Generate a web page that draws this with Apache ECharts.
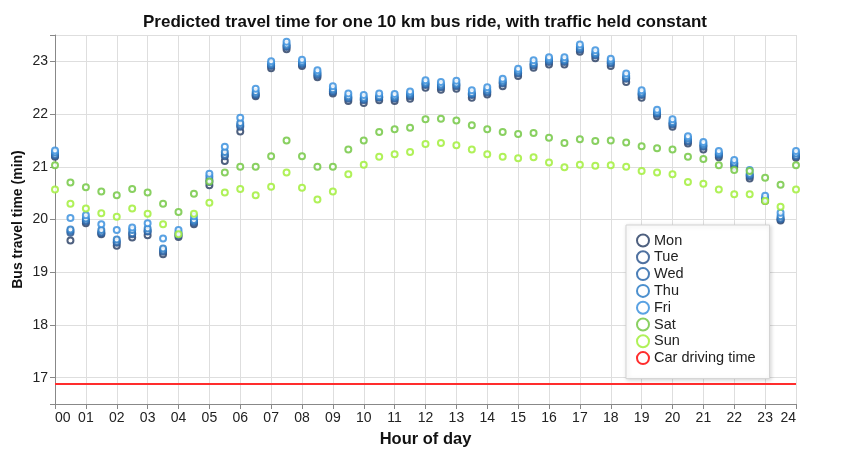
<!DOCTYPE html>
<html>
<head>
<meta charset="utf-8">
<script src="https://cdn.jsdelivr.net/npm/echarts@6/dist/echarts.min.js"></script>
<style>html,body{margin:0;padding:0;background:#fff;}#c{width:850px;height:466px;}</style>
</head>
<body>
<div id="c"></div>
<script>
var hours = [0,0.5,1,1.5,2,2.5,3,3.5,4,4.5,5,5.5,6,6.5,7,7.5,8,8.5,9,9.5,10,10.5,11,11.5,12,12.5,13,13.5,14,14.5,15,15.5,16,16.5,17,17.5,18,18.5,19,19.5,20,20.5,21,21.5,22,22.5,23,23.5,24];
var mon = [21.19,19.60,19.93,19.72,19.50,19.66,19.70,19.34,19.67,19.91,20.65,21.11,21.67,22.34,22.87,23.23,22.91,22.70,22.39,22.25,22.21,22.26,22.25,22.29,22.50,22.46,22.48,22.31,22.37,22.53,22.72,22.88,22.94,22.94,23.18,23.06,22.91,22.61,22.31,21.96,21.76,21.44,21.33,21.18,21.00,20.78,20.35,19.98,21.17];
var tue = [21.21,19.75,19.96,19.74,19.56,19.72,19.77,19.39,19.70,19.94,20.71,21.20,21.76,22.36,22.91,23.27,22.94,22.73,22.42,22.29,22.26,22.31,22.29,22.34,22.55,22.51,22.53,22.36,22.41,22.58,22.77,22.92,22.99,22.99,23.22,23.11,22.96,22.67,22.36,22.00,21.80,21.48,21.38,21.22,21.04,20.82,20.37,20.00,21.20];
var wed = [21.23,19.78,19.98,19.76,19.58,19.74,19.78,19.41,19.72,19.96,20.75,21.23,21.79,22.38,22.93,23.29,22.96,22.76,22.44,22.31,22.28,22.32,22.31,22.36,22.57,22.53,22.55,22.38,22.43,22.60,22.79,22.94,23.01,23.01,23.24,23.13,22.98,22.69,22.38,22.02,21.82,21.50,21.40,21.24,21.06,20.84,20.38,20.02,21.21];
var thu = [21.27,19.81,20.02,19.80,19.62,19.80,19.83,19.45,19.75,19.99,20.81,21.28,21.83,22.42,22.96,23.32,22.99,22.79,22.47,22.34,22.31,22.34,22.34,22.39,22.60,22.56,22.58,22.40,22.46,22.63,22.82,22.97,23.04,23.03,23.27,23.16,23.01,22.72,22.41,22.04,21.85,21.54,21.43,21.26,21.08,20.87,20.40,20.06,21.25];
var fri = [21.31,20.03,20.08,19.91,19.80,19.85,19.93,19.64,19.80,20.06,20.87,21.38,21.93,22.48,23.00,23.37,23.03,22.83,22.53,22.39,22.36,22.39,22.38,22.43,22.64,22.61,22.63,22.45,22.51,22.67,22.86,23.02,23.08,23.08,23.32,23.21,23.05,22.77,22.45,22.08,21.90,21.58,21.47,21.30,21.13,20.94,20.45,20.13,21.30];
var sat = [21.03,20.70,20.61,20.53,20.46,20.58,20.51,20.30,20.14,20.49,20.72,20.89,21.00,21.00,21.20,21.50,21.20,21.00,21.00,21.33,21.50,21.66,21.71,21.74,21.90,21.91,21.88,21.79,21.71,21.66,21.62,21.64,21.55,21.45,21.52,21.49,21.50,21.46,21.39,21.35,21.33,21.19,21.15,21.03,20.94,20.92,20.79,20.66,21.03];
var sun = [20.57,20.30,20.21,20.12,20.05,20.21,20.11,19.91,19.72,20.11,20.32,20.51,20.58,20.46,20.62,20.89,20.60,20.38,20.53,20.86,21.04,21.19,21.24,21.28,21.43,21.45,21.41,21.33,21.24,21.19,21.16,21.18,21.08,20.99,21.04,21.02,21.03,21.00,20.92,20.89,20.86,20.71,20.68,20.57,20.48,20.48,20.35,20.24,20.57];
var carHours = [0,24];
var carTime = [16.88,16.88];
var dayNames = ['Mon','Tue','Wed','Thu','Fri','Sat','Sun'];
var dayValues = [mon,tue,wed,thu,fri,sat,sun];
var dayColors = ['#2f4468','#30588f','#2c68ac','#2d7cc6','#3d92de','#74c845','#a2ee3c'];
var carName = 'Car driving time';

function pair(xs, ys){ return xs.map(function(x,i){ return [x, ys[i]]; }); }

var series = dayNames.map(function(n,i){
  return {
    name: n, type: 'scatter', symbol: 'emptyCircle', symbolSize: 6,
    itemStyle: { color: dayColors[i], borderColor: dayColors[i], borderWidth: 2, opacity: 0.85 },
    data: pair(hours, dayValues[i])
  };
});
series.push({
  name: carName, type: 'line', showSymbol: false, symbol: 'emptyCircle',
  lineStyle: { color: '#ff2d2d', width: 2 }, itemStyle: { color: '#ff2d2d' },
  data: pair(carHours, carTime)
});

var chart = echarts.init(document.getElementById('c'), null, {renderer:'canvas'});
chart.setOption({
  animation: false,
  backgroundColor: '#fff',
  textStyle: { fontFamily: 'Liberation Sans, Arial, sans-serif' },
  title: {
    text: 'Predicted travel time for one 10 km bus ride, with traffic held constant',
    left: 'center', top: 9,
    textStyle: { fontSize: 17, fontWeight: 'bold', color: '#111', fontFamily: 'Liberation Sans, Arial, sans-serif' }
  },
  legend: {
    orient: 'vertical', left: 626, top: 225,
    padding: [8, 14, 13, 10], itemGap: 1.8, itemWidth: 12, itemHeight: 12,
    backgroundColor: '#fff', borderColor: '#d4d4d4', borderWidth: 1,
    shadowBlur: 4, shadowColor: 'rgba(0,0,0,0.15)', shadowOffsetX: 1, shadowOffsetY: 1,
    textStyle: { fontSize: 14.5, color: '#222' },
    data: dayNames.map(function(n){ return { name: n, icon: 'emptyCircle' }; }).concat([{ name: carName, icon: 'emptyCircle' }])
  },
  grid: { left: 55, right: 54, top: 35, bottom: 62 },
  xAxis: {
    type: 'value', min: 0, max: 24, interval: 1,
    name: 'Hour of day', nameLocation: 'middle', nameGap: 27,
    nameTextStyle: { fontSize: 16.5, fontWeight: 'bold', color: '#111' },
    axisLine: { show: true, lineStyle: { color: '#888' } },
    axisTick: { show: true, length: 5, lineStyle: { color: '#888' } },
    axisLabel: { fontSize: 14, color: '#222', margin: 7, alignMinLabel: 'left', alignMaxLabel: 'right',
      formatter: function(v){ return (v < 10 ? '0' : '') + v; } },
    splitLine: { show: true, lineStyle: { color: '#dedede' } }
  },
  yAxis: {
    type: 'value', min: 16.5, max: 23.5, splitNumber: 7,
    name: 'Bus travel time (min)', nameLocation: 'middle', nameGap: 30, nameMoveOverlap: false,
    nameTextStyle: { fontSize: 14, fontWeight: 'bold', color: '#111' },
    axisLine: { show: true, lineStyle: { color: '#888' } },
    axisTick: { show: true, length: 5, lineStyle: { color: '#888' } },
    axisLabel: { fontSize: 14, color: '#222', margin: 7,
      formatter: function(v){ return Number.isInteger(v) ? String(v) : ''; } },
    splitLine: { show: true, lineStyle: { color: '#dedede' } }
  },
  series: series
});
</script>
</body>
</html>
